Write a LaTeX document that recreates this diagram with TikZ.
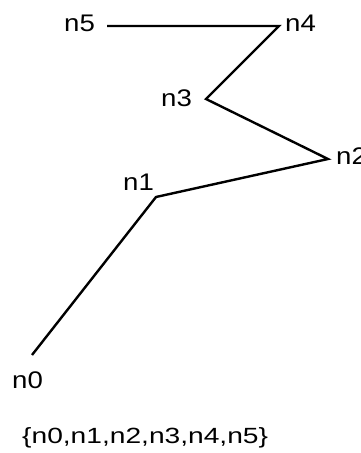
\documentclass[tikz,border=0pt]{standalone}
\usepackage{fontspec}
\usepackage{graphicx}
\setmainfont{Liberation Sans}
\tikzset{
  lbl/.style={anchor=base west, inner sep=0pt, font=\fontsize{24}{28}\selectfont},
  edge/.style={line width=2.4pt, line join=miter},
}
\newcommand{\wlab}[1]{\scalebox{1.15}[1]{#1}}
\begin{document}
\begin{tikzpicture}[x=1pt,y=-1pt]
\useasboundingbox (0,0) rectangle (360,453);
\coordinate (n5) at (107,26);
\coordinate (n4) at (279,26);
\coordinate (n3) at (206,99);
\coordinate (n2) at (328,159);
\coordinate (n1) at (156,197);
\coordinate (n0) at (32,355);
\draw[edge] (n5) -- (n4) -- (n3) -- (n2) -- (n1) -- (n0);
\node[lbl] (l5) at (64,31) {\wlab{n5}};
\node[lbl] (l4) at (285,31) {\wlab{n4}};
\node[lbl] (l3) at (161,106) {\wlab{n3}};
\node[lbl] (l2) at (336,164) {\wlab{n2}};
\node[lbl] (l1) at (123,190) {\wlab{n1}};
\node[lbl] (l0) at (12,388) {\wlab{n0}};
\node[anchor=base west, inner sep=0pt, font=\fontsize{22}{26}\selectfont] (set) at (22,443) {\scalebox{1.28}[1]{\{n0,n1,n2,n3,n4,n5\}}};
\end{tikzpicture}
\end{document}
